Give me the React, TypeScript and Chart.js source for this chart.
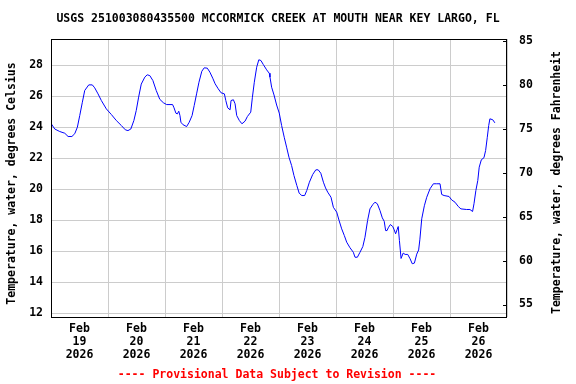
import React, { useEffect, useRef } from 'react';
import { Chart, registerables } from 'chart.js';

Chart.register(...registerables);

const TITLE = 'USGS 251003080435500 MCCORMICK CREEK AT MOUTH NEAR KEY LARGO, FL';
const FOOTNOTE = '---- Provisional Data Subject to Revision ----';
const Y_LEFT_TITLE = 'Temperature, water, degrees Celsius';
const Y_RIGHT_TITLE = 'Temperature, water, degrees Fahrenheit';
const MONTH = 'Feb';
const YEAR = '2026';
const DAY_LABELS = ['19', '20', '21', '22', '23', '24', '25', '26'];

// hours since Feb 19 2026 00:00
const HOURS = [
  0.1, 1.6, 3.7, 5.8, 7.2, 8.8, 10.0, 11.1, 12.1, 13.2, 14.2, 15.9, 17.4, 18.4, 19.8, 21.2, 23.3,
  25.4, 27.5, 29.6, 31.3, 32.4, 33.6, 34.9, 35.9, 36.9, 38.0, 39.5, 40.5, 41.6, 42.9, 44.3, 45.8, 47.3,
  48.7, 51.2, 51.8, 52.6, 53.2, 53.8, 54.3, 54.7, 55.5, 57.1, 58.2, 59.4, 60.3, 61.3, 62.3, 63.5, 64.5,
  65.8, 66.9, 68.1, 69.1, 70.4, 71.6, 73.0, 73.6, 74.4, 75.4, 75.8, 76.8, 77.5, 78.2, 79.3, 80.4, 81.7,
  82.7, 84.1, 84.8, 85.6, 86.6, 87.5, 88.4, 89.4, 90.8, 91.9, 92.2, 92.9, 93.9, 95.0, 96.1, 97.1, 98.2,
  99.2, 100.2, 101.3, 102.3, 103.5, 104.5, 105.6, 106.8, 107.7, 108.8, 110.2, 111.5, 112.5, 113.6, 114.7,
  115.6, 116.5, 117.9, 118.9, 120.3, 121.3, 122.4, 123.5, 124.5, 125.9, 127.3, 128.0, 129.0, 130.1, 131.3,
  132.2, 133.3, 134.3, 135.5, 136.4, 137.4, 138.5, 139.5, 140.3, 140.9, 141.5, 142.0, 142.9, 143.9, 144.5,
  145.1, 145.7, 146.2, 146.7, 147.4, 148.3, 149.1, 150.2, 151.2, 152.1, 153.0, 154.0, 154.8, 155.3, 156.1,
  157.2, 158.2, 159.6, 161.0, 162.4, 163.8, 164.5, 165.5, 167.6, 168.7, 170.1, 171.5, 172.6, 175.0, 176.4,
  177.5, 178.1, 178.9, 179.7, 180.3, 181.2, 182.3, 183.0, 183.7, 184.3, 184.8, 186.0, 186.9,
];

const TEMPS_C = [
  24.24, 23.9, 23.74, 23.63, 23.42, 23.42, 23.6, 24.02, 24.77, 25.63, 26.39, 26.75, 26.75, 26.56, 26.17, 25.74, 25.2,
  24.84, 24.45, 24.13, 23.85, 23.8, 23.9, 24.45, 25.1, 25.96, 26.8, 27.25, 27.4, 27.35, 27.03, 26.39, 25.82, 25.6,
  25.48, 25.48, 25.27, 24.92, 24.88, 25.05, 24.77, 24.34, 24.19, 24.06, 24.34, 24.77, 25.42, 26.17, 26.92, 27.63, 27.85,
  27.83, 27.57, 27.18, 26.82, 26.5, 26.24, 26.17, 25.74, 25.27, 25.14, 25.74, 25.79, 25.53, 24.77, 24.45, 24.24, 24.41,
  24.71, 24.99, 25.95, 26.92, 27.89, 28.37, 28.32, 28.06, 27.72, 27.5, 27.25, 26.6, 26.1, 25.45, 24.93, 24.13, 23.37,
  22.73, 22.08, 21.55, 20.9, 20.26, 19.76, 19.61, 19.61, 19.94, 20.47, 20.97, 21.27, 21.27, 21.05, 20.47,
  20.1, 19.83, 19.5, 18.85, 18.54, 18.0, 17.46, 17.03, 16.6, 16.24, 15.95, 15.63, 15.63, 15.95, 16.32,
  16.92, 18.0, 18.75, 19.03, 19.18, 19.08, 18.65, 18.17, 17.95, 17.35, 17.35, 17.53, 17.74, 17.61, 17.4,
  17.14, 17.4, 17.61, 16.71, 15.55, 15.9, 15.81, 15.81, 15.53, 15.21, 15.25, 15.83, 16.1, 16.75, 18.11,
  18.95, 19.5, 20.05, 20.37, 20.37, 20.37, 19.68, 19.61, 19.55, 19.33, 19.18, 18.9, 18.75, 18.71, 18.71,
  18.58, 19.08, 19.94, 20.58, 21.44, 21.92, 22.05, 22.52, 23.37, 24.13, 24.56, 24.5, 24.3,
];

const FONT_FAMILY = '"DejaVu Sans Mono", monospace';
const FONT_SIZE = 11.5;
const GRID_COLOR = '#cccccc';

const overlayPlugin = {
  id: 'usgsOverlay',
  afterDraw(chart: any) {
    const ctx = chart.ctx as CanvasRenderingContext2D;
    const area = chart.chartArea;
    ctx.save();
    // plot border
    ctx.strokeStyle = '#000000';
    ctx.lineWidth = 1;
    ctx.strokeRect(area.left + 0.5, area.top + 0.5, area.right - area.left - 1, area.bottom - area.top);
    // right axis inner tick marks
    const y2 = chart.scales.y2;
    ctx.beginPath();
    y2.ticks.forEach((t: any) => {
      const py = Math.round(y2.getPixelForValue(t.value)) + 0.5;
      ctx.moveTo(area.right - 4, py);
      ctx.lineTo(area.right, py);
    });
    ctx.stroke();

    ctx.font = `bold ${FONT_SIZE}px ${FONT_FAMILY}`;
    ctx.textAlign = 'center';
    ctx.textBaseline = 'middle';
    const cx = (area.left + area.right) / 2;
    ctx.fillStyle = '#000000';
    ctx.fillText(TITLE, cx - 1, 19);
    ctx.fillStyle = '#ff0000';
    ctx.fillText(FOOTNOTE, cx - 2, 375);

    ctx.fillStyle = '#000000';
    ctx.save();
    ctx.translate(12, 183.5);
    ctx.rotate(-Math.PI / 2);
    ctx.fillText(Y_LEFT_TITLE, 0, 0);
    ctx.restore();
    ctx.save();
    ctx.translate(557, 182.5);
    ctx.rotate(-Math.PI / 2);
    ctx.fillText(Y_RIGHT_TITLE, 0, 0);
    ctx.restore();
    ctx.restore();
  },
};

export default function App() {
  const canvasRef = useRef<HTMLCanvasElement | null>(null);

  useEffect(() => {
    if (!canvasRef.current) return;
    const tickFont = { family: FONT_FAMILY, size: FONT_SIZE, weight: 'bold' as const, lineHeight: '13px' };
    const chart = new Chart(canvasRef.current, {
      type: 'line',
      data: {
        datasets: [
          {
            data: HOURS.map((h, i) => ({ x: h, y: TEMPS_C[i] })),
            borderColor: '#0000ff',
            borderWidth: 1,
            pointRadius: 0,
            tension: 0,
            fill: false,
          },
        ],
      },
      options: {
        animation: false,
        responsive: false,
        devicePixelRatio: 1,
        parsing: false as any,
        layout: { padding: { top: 39, left: 0, right: 0, bottom: 0 } },
        plugins: {
          legend: { display: false },
          title: { display: false },
          tooltip: { enabled: false },
        },
        scales: {
          x: {
            type: 'linear',
            min: 0,
            max: 192,
            grid: {
              color: (c: any) => (c.tick && c.tick.value % 24 === 0 ? GRID_COLOR : 'rgba(0,0,0,0)'),
              drawTicks: false,
            },
            border: { display: false },
            ticks: {
              stepSize: 12,
              autoSkip: false,
              maxRotation: 0,
              minRotation: 0,
              padding: 6,
              color: '#000000',
              font: tickFont,
              callback: (v: any) => {
                const n = Number(v);
                if (n % 24 === 12) {
                  const idx = (n - 12) / 24;
                  return [MONTH, DAY_LABELS[idx], YEAR];
                }
                return '';
              },
            },
            afterFit: (s: any) => {
              s.height = 67;
            },
          },
          y: {
            type: 'linear',
            position: 'left',
            min: 11.774,
            max: 29.71,
            grid: { color: GRID_COLOR, drawTicks: false },
            border: { display: false },
            ticks: {
              stepSize: 2,
              includeBounds: false,
              padding: 8,
              color: '#000000',
              font: tickFont,
            },
            afterFit: (s: any) => {
              s.width = 51;
            },
          },
          y2: {
            type: 'linear',
            position: 'right',
            min: 53.577,
            max: 85.228,
            grid: { display: false, drawTicks: false },
            border: { display: false },
            ticks: {
              stepSize: 5,
              includeBounds: false,
              padding: 12,
              color: '#000000',
              font: tickFont,
            },
            afterFit: (s: any) => {
              s.width = 69;
            },
          },
        },
      },
      plugins: [overlayPlugin],
    });
    return () => chart.destroy();
  }, []);

  return (
    <div style={{ position: 'absolute', left: 0, top: 0, width: 576, height: 384, background: '#ffffff' }}>
      <canvas ref={canvasRef} width={576} height={384} style={{ display: 'block' }} />
    </div>
  );
}
